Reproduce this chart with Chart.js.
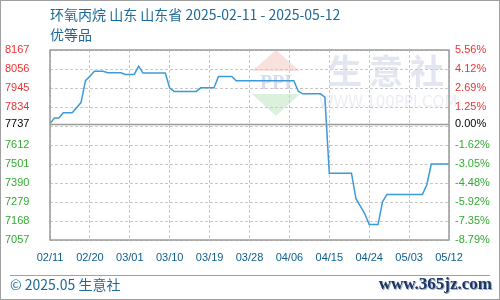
<!DOCTYPE html>
<html>
<head>
<meta charset="utf-8">
<script src="https://cdn.jsdelivr.net/npm/chart.js@4.4.1/dist/chart.umd.min.js"></script>
<style>
    body { margin: 0; background: #fff; }
    #wrap { position: relative; width: 500px; height: 300px; overflow: hidden; }
    #chart { position: absolute; left: 0; top: 0; }
    .title { position: absolute; left: 50px; font: 14px "Noto Sans CJK SC", sans-serif; color: #1d6a9a; white-space: nowrap; }
    #footer { position: absolute; left: 10px; top: 274px; font: 14px "Noto Sans CJK SC", sans-serif; color: #1d6a9a; }
    #site { position: absolute; right: 8px; top: 274px; font: bold 17px "Liberation Serif", serif; color: #1b3566; text-shadow: 1px 1px 0 #9aa8c8; }
    #sep { position: absolute; left: 10px; top: 275px; width: 480px; border-top: 1px solid #a0a0a0; }
    #frame { position: absolute; left: 0; top: 0; width: 500px; height: 300px; box-sizing: border-box; border: 1px solid #a0a0a0; pointer-events: none; }
</style>
</head>
<body>
<div id="wrap">
    <canvas id="chart" width="500" height="300"></canvas>
    <div class="title" style="top:4px">环氧丙烷 山东 山东省 2025-02-11 - 2025-05-12</div>
    <div class="title" style="top:24px">优等品</div>
    <div id="sep"></div>
    <div id="footer">© 2025.05 生意社</div>
    <div id="site">www.365jz.com</div>
    <div id="frame"></div>
</div>
<script>
// Daily prices 02/11 .. 05/12 (yuan/ton)
const prices = [
    7737, 7770, 7770, 7800, 7800, 7800, 7830, 7860, 7988, 8014,
    8043, 8043, 8043, 8034, 8034, 8034, 8034, 8024, 8024, 8024,
    8072, 8032, 8032, 8032, 8032, 8032, 8032, 7945, 7925, 7925,
    7925, 7925, 7925, 7925, 7946, 7946, 7946, 7946, 8012, 8012,
    8012, 8012, 7987, 7987, 7987, 7987, 7987, 7987, 7987, 7987,
    7987, 7987, 7987, 7987, 7987, 7987, 7926, 7911, 7911, 7911,
    7911, 7911, 7891, 7447, 7447, 7447, 7447, 7447, 7447, 7300,
    7255, 7210, 7147, 7147, 7147, 7280, 7323, 7323, 7323, 7323,
    7323, 7323, 7323, 7323, 7323, 7380, 7501, 7501, 7501, 7501,
    7501
];
const xTickLabels = ['02/11', '02/20', '03/01', '03/10', '03/19', '03/28', '04/06', '04/15', '04/24', '05/03', '05/12'];
const gridTicks = [7057, 7168, 7279, 7390, 7501, 7612, 7723, 7834, 7945, 8056, 8167];
const baseValue = prices[0];

const points = prices.map((v, i) => ({ x: i, y: v }));
const labelFont = { family: '"Liberation Sans", Arial, sans-serif', size: 11 };

// the grid line closest to the base price gets no label, the base one takes it
const hiddenTick = gridTicks.reduce((a, b) => Math.abs(b - baseValue) < Math.abs(a - baseValue) ? b : a);

function pct(v) {
    return ((v - baseValue) / baseValue * 100).toFixed(2) + '%';
}
function tickColor(v) {
    if (v === baseValue) return '#000000';
    return v > baseValue ? '#ee3333' : '#33aa33';
}
function setTicks(scale) {
    scale.ticks = gridTicks.concat([baseValue]).sort((a, b) => a - b).map(v => ({ value: v }));
}

// watermark, base line and plot frame
const decorations = {
    id: 'decorations',
    beforeDraw(chart) {
        const c = chart.ctx;
        c.save();
        c.fillStyle = 'rgba(246,212,208,0.7)';
        c.beginPath(); c.moveTo(276, 50); c.lineTo(300, 71); c.lineTo(252, 71); c.closePath(); c.fill();
        c.fillStyle = 'rgba(210,237,214,0.8)';
        c.beginPath(); c.moveTo(252, 94); c.lineTo(300, 94); c.lineTo(276, 116); c.closePath(); c.fill();
        c.fillStyle = 'rgba(205,212,230,0.8)';
        c.font = 'bold 20px "Liberation Serif", serif';
        c.textAlign = 'center';
        c.textBaseline = 'middle';
        c.fillText('PPI', 276, 84);
        c.fillStyle = 'rgba(220,224,236,0.8)';
        c.font = 'bold 34px "Noto Sans CJK SC", sans-serif';
        c.fillText('生', 345, 71);
        c.fillText('意', 386, 71);
        c.fillText('社', 427, 71);
        c.fillStyle = 'rgba(230,232,240,0.8)';
        c.font = '15px "DejaVu Sans", sans-serif';
        c.fillText('WWW.100PPI.COM', 388, 103);
        c.restore();
    },
    afterDatasetsDraw(chart) {
        const { ctx: c, chartArea: a } = chart;
        const y = Math.round(chart.scales.y.getPixelForValue(baseValue)) + 0.5;
        c.save();
        c.strokeStyle = '#9a9a9a';
        c.lineWidth = 1.5;
        c.beginPath(); c.moveTo(a.left, y); c.lineTo(a.right, y); c.stroke();
        c.strokeRect(a.left, a.top, a.right - a.left, a.bottom - a.top);
        c.restore();
    }
};

new Chart(document.getElementById('chart'), {
    type: 'line',
    data: {
        datasets: [{
            data: points,
            borderColor: '#3b9bd8',
            borderWidth: 1.5,
            pointRadius: 0,
            tension: 0,
            fill: false
        }]
    },
    options: {
        responsive: false,
        animation: false,
        devicePixelRatio: 1,
        layout: { padding: { top: 50, left: 5, right: 0, bottom: 0 } },
        plugins: { legend: { display: false }, tooltip: { enabled: false } },
        scales: {
            x: {
                type: 'linear',
                min: 0,
                max: prices.length - 1,
                afterBuildTicks: scale => {
                    scale.ticks = xTickLabels.map((l, i) => ({ value: i * 9 }));
                },
                afterFit: scale => { scale.height = 60; },
                grid: { color: '#c8c8c8', drawTicks: false },
                border: { display: false, dash: [3, 2] },
                ticks: {
                    padding: 11,
                    color: '#0b5d8f',
                    font: labelFont,
                    maxRotation: 0,
                    callback: (v, i) => xTickLabels[i]
                }
            },
            y: {
                position: 'left',
                min: gridTicks[0],
                max: gridTicks[gridTicks.length - 1],
                afterBuildTicks: setTicks,
                afterFit: scale => { scale.width = 45; },
                grid: {
                    drawTicks: false,
                    color: ctx => ctx.tick && ctx.tick.value === baseValue ? 'rgba(0,0,0,0)' : '#c8c8c8'
                },
                border: { display: false, dash: [3, 2] },
                ticks: {
                    crossAlign: 'far',
                    padding: 0,
                    font: labelFont,
                    autoSkip: false,
                    color: ctx => tickColor(ctx.tick.value),
                    callback: v => v === hiddenTick ? '' : String(v)
                }
            },
            y1: {
                position: 'right',
                min: gridTicks[0],
                max: gridTicks[gridTicks.length - 1],
                afterBuildTicks: setTicks,
                afterFit: scale => { scale.width = 51; },
                grid: { display: false, drawTicks: false },
                border: { display: false },
                ticks: {
                    padding: 6,
                    font: labelFont,
                    autoSkip: false,
                    color: ctx => tickColor(ctx.tick.value),
                    callback: v => v === hiddenTick ? '' : pct(v)
                }
            }
        }
    },
    plugins: [decorations]
});
</script>
</body>
</html>
